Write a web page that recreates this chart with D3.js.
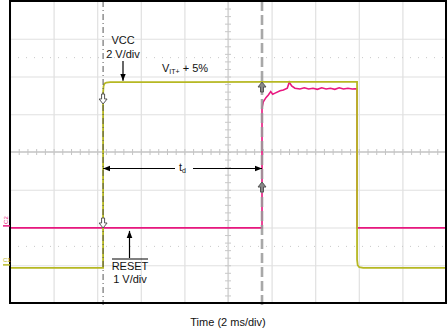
<html>
<head>
<script src="https://d3js.org/d3.v7.min.js"></script>
<style>
body { margin: 0; background: #fff; }
svg { font-family: "Liberation Sans", Arial, sans-serif; }
.lbl { font-size: 11px; fill: #111; }
</style>
</head>
<body>
<div id="chart"></div>
<script>
// time axis in ms (2 ms/div, 10 div), vertical axis in divisions (8 div)
var xTicks = [0, 2, 4, 6, 8, 10, 12, 14, 16, 18, 20];
var yTicks = [-4, -3, -2, -1, 0, 1, 2, 3, 4];
var dottedLevels = [2.5, -2.5];

// VCC trace (C1, yellow), [ms, div]
var vccT = [0, 4.27, 4.27, 4.29, 4.33, 4.42, 4.6, 8, 12, 15.92, 15.92, 15.95, 16.02, 16.2, 20];
var vccV = [-3.07, -3.07, 1.55, 1.74, 1.81, 1.84, 1.85, 1.85, 1.86, 1.86, -2.85, -3.0, -3.05, -3.07, -3.07];

// RESET trace (C2, pink), [ms, div]
var rstT = [0, 11.56, 11.56, 11.62, 11.74, 11.85, 11.96, 12.05, 12.16, 12.39, 12.54, 12.72, 12.81, 12.92, 13.07, 13.3,
            13.5, 13.7, 13.9, 14.1, 14.3, 14.5, 14.7, 14.9, 15.1, 15.3, 15.5, 15.7, 15.92, 15.92, 20];
var rstV = [-2.01, -2.01, 1.17, 1.33, 1.44, 1.51, 1.60, 1.53, 1.56, 1.62, 1.64, 1.69, 1.85, 1.75, 1.69, 1.67,
            1.70, 1.67, 1.69, 1.66, 1.70, 1.67, 1.69, 1.66, 1.70, 1.67, 1.69, 1.67, 1.68, -2.01, -2.01];

var cursorT = [4.27, 11.56];

var width = 448, height = 331;
var plotL = 10, plotR = 446, plotT = 1, plotB = 303;

var x = d3.scaleLinear().domain([0, 20]).range([plotL, plotR]);
var y = d3.scaleLinear().domain([-4, 4]).range([plotB, plotT]);

var svg = d3.select("#chart").append("svg")
    .attr("width", width).attr("height", height);

// grid
svg.append("g")
    .attr("transform", "translate(0," + plotB + ")")
    .call(d3.axisBottom(x).tickValues(xTicks).tickSize(-(plotB - plotT)).tickFormat(""))
    .call(g => g.select(".domain").remove())
    .call(g => g.selectAll("line").attr("stroke", "#e0e0e0").attr("stroke-width", 1.2));
svg.append("g")
    .attr("transform", "translate(" + plotL + ",0)")
    .call(d3.axisLeft(y).tickValues(yTicks).tickSize(-(plotR - plotL)).tickFormat(""))
    .call(g => g.select(".domain").remove())
    .call(g => g.selectAll("line").attr("stroke", "#e0e0e0").attr("stroke-width", 1.2));

// dotted half levels
svg.selectAll(".dotted").data(dottedLevels).enter().append("line")
    .attr("x1", plotL).attr("x2", plotR)
    .attr("y1", d => y(d)).attr("y2", d => y(d))
    .attr("stroke", "#c8c8c8").attr("stroke-width", 1)
    .attr("stroke-dasharray", "1,7");

// centre lines with minor ticks
svg.append("line").attr("x1", plotL).attr("x2", plotR).attr("y1", y(0)).attr("y2", y(0))
    .attr("stroke", "#d2d2d2").attr("stroke-width", 2);
svg.append("line").attr("x1", x(10)).attr("x2", x(10)).attr("y1", plotT).attr("y2", plotB)
    .attr("stroke", "#d2d2d2").attr("stroke-width", 1.2);
svg.append("g")
    .attr("transform", "translate(0," + (y(0) + 3) + ")")
    .call(d3.axisTop(x).tickValues(d3.range(0, 20.01, 0.4)).tickSize(6).tickFormat(""))
    .call(g => g.select(".domain").remove())
    .call(g => g.selectAll("line").attr("stroke", "#c4c4c4"));
svg.append("g")
    .attr("transform", "translate(" + (x(10) + 3) + ",0)")
    .call(d3.axisLeft(y).tickValues(d3.range(-4, 4.01, 0.2)).tickSize(6).tickFormat(""))
    .call(g => g.select(".domain").remove())
    .call(g => g.selectAll("line").attr("stroke", "#c8c8c8"));

var line = d3.line().x(d => x(d[0])).y(d => y(d[1]));

// traces
svg.append("path").datum(rstT.map((t, i) => [t, rstV[i]]))
    .attr("d", line).attr("fill", "none")
    .attr("stroke", "#e8177f").attr("stroke-width", 1.6);
svg.append("path").datum(vccT.map((t, i) => [t, vccV[i]]))
    .attr("d", line).attr("fill", "none")
    .attr("stroke", "#b6b823").attr("stroke-width", 1.8);

// cursors
svg.append("line").attr("x1", x(cursorT[0])).attr("x2", x(cursorT[0])).attr("y1", plotT).attr("y2", plotB + 2)
    .attr("stroke", "#555").attr("stroke-width", 1).attr("stroke-dasharray", "6,3,1,3");
svg.append("line").attr("x1", x(cursorT[1])).attr("x2", x(cursorT[1])).attr("y1", plotT).attr("y2", plotB + 2)
    .attr("stroke", "#999").attr("stroke-width", 2.6).attr("stroke-dasharray", "10,4").attr("opacity", 0.85);

// frame
svg.append("rect").attr("x", plotL).attr("y", plotT).attr("width", plotR - plotL).attr("height", plotB - plotT)
    .attr("fill", "none").attr("stroke", "#000").attr("stroke-width", 2);

// channel markers
svg.append("line").attr("x1", 3).attr("x2", plotL).attr("y1", y(-2.01) - 2).attr("y2", y(-2.01) - 2)
    .attr("stroke", "#e8177f").attr("stroke-width", 1.5);
svg.append("text").attr("transform", "translate(8," + (y(-2.01) - 4) + ") rotate(-90)")
    .attr("font-size", 6).attr("fill", "#e8177f").text("C2");
svg.append("line").attr("x1", 3).attr("x2", plotL).attr("y1", y(-3.07) - 3).attr("y2", y(-3.07) - 3)
    .attr("stroke", "#b6b823").attr("stroke-width", 1.5);
svg.append("text").attr("x", 3).attr("y", y(-3.07) - 6)
    .attr("font-size", 6).attr("fill", "#b6b823").text("C1");

// hollow trigger arrows
function arrowIcon(cx, cy, dir, fill) {
    var s = dir; // 1 = down, -1 = up
    var p = "M" + (cx - 1.5) + "," + (cy - 6 * s) + " L" + (cx + 1.5) + "," + (cy - 6 * s) +
        " L" + (cx + 1.5) + "," + (cy - 1 * s) + " L" + (cx + 4) + "," + (cy - 1 * s) +
        " L" + cx + "," + (cy + 4 * s) + " L" + (cx - 4) + "," + (cy - 1 * s) +
        " L" + (cx - 1.5) + "," + (cy - 1 * s) + " Z";
    svg.append("path").attr("d", p).attr("fill", fill).attr("stroke", "#555").attr("stroke-width", 1);
}
arrowIcon(x(cursorT[0]), 100, 1, "#fff");
arrowIcon(x(cursorT[0]), 224, 1, "#fff");
arrowIcon(x(cursorT[1]), 86, -1, "#888");
arrowIcon(x(cursorT[1]), 186, -1, "#888");

// annotation arrows
svg.append("defs").append("marker")
    .attr("id", "arrow").attr("viewBox", "0 0 10 10")
    .attr("refX", 10).attr("refY", 5)
    .attr("markerWidth", 7).attr("markerHeight", 7)
    .attr("markerUnits", "userSpaceOnUse")
    .attr("orient", "auto-start-reverse")
    .append("path").attr("d", "M 0 1 L 10 5 L 0 9 Z").attr("fill", "#000");

svg.append("line").attr("x1", 123).attr("y1", 61).attr("x2", 123).attr("y2", y(1.86) - 1)
    .attr("stroke", "#000").attr("stroke-width", 1.2).attr("marker-end", "url(#arrow)");
svg.append("line").attr("x1", 129.5).attr("y1", 258).attr("x2", 129.5).attr("y2", y(-2.01) + 3)
    .attr("stroke", "#000").attr("stroke-width", 1.2).attr("marker-end", "url(#arrow)");

var tdY = 168.5;
svg.append("line").attr("x1", 175).attr("y1", tdY).attr("x2", x(cursorT[0]))
    .attr("y2", tdY).attr("stroke", "#000").attr("stroke-width", 1.2).attr("marker-end", "url(#arrow)");
svg.append("line").attr("x1", 193).attr("y1", tdY).attr("x2", x(cursorT[1]))
    .attr("y2", tdY).attr("stroke", "#000").attr("stroke-width", 1.2).attr("marker-end", "url(#arrow)");

// labels
svg.append("text").attr("class", "lbl").attr("x", 123).attr("y", 44).attr("text-anchor", "middle").text("VCC");
svg.append("text").attr("class", "lbl").attr("x", 123).attr("y", 58).attr("text-anchor", "middle").text("2 V/div");

var vit = svg.append("text").attr("class", "lbl").attr("x", 162).attr("y", 72);
vit.append("tspan").text("V");
vit.append("tspan").attr("font-size", 7).attr("dy", 2).text("IT+");
vit.append("tspan").attr("dy", -2).text(" + 5%");

var td = svg.append("text").attr("class", "lbl").attr("x", 179).attr("y", 171);
td.append("tspan").text("t");
td.append("tspan").attr("font-size", 7).attr("dy", 2).text("d");

svg.append("text").attr("class", "lbl").attr("x", 130).attr("y", 270).attr("text-anchor", "middle").text("RESET");
svg.append("line").attr("x1", 112).attr("x2", 148).attr("y1", 259).attr("y2", 259)
    .attr("stroke", "#000").attr("stroke-width", 1);
svg.append("text").attr("class", "lbl").attr("x", 130).attr("y", 283).attr("text-anchor", "middle").text("1 V/div");

svg.append("text").attr("class", "lbl").attr("x", 228).attr("y", 326).attr("text-anchor", "middle")
    .text("Time (2 ms/div)");
</script>
</body>
</html>
